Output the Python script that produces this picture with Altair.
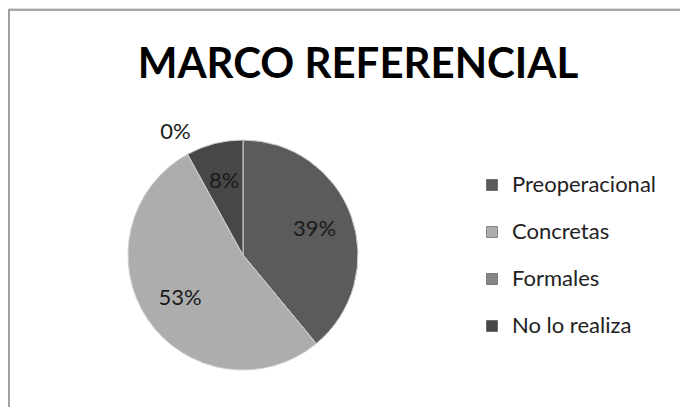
import altair as alt
import pandas as pd

categories = ["Preoperacional", "Concretas", "Formales", "No lo realiza"]
values = [39, 53, 0, 8]
order_idx = [0, 1, 2, 3]
colors = ["#5b5b5b", "#adadad", "#868686", "#474747"]
title_text = ["MARCO REFERENCIAL"]

df = pd.DataFrame({"cat": categories, "value": values, "idx": order_idx})
tdf = pd.DataFrame({"t": title_text})

CX, CY, R = 235, 247, 115

base = alt.Chart(df).encode(
    theta=alt.Theta("value:Q", stack=True),
    order=alt.Order("idx:Q"),
)

pie = base.mark_arc(outerRadius=R, stroke="#d0d0d0", strokeWidth=1).encode(
    x=alt.value(CX), y=alt.value(CY),
    color=alt.Color("cat:N", sort=categories,
                    scale=alt.Scale(domain=categories, range=colors),
                    legend=alt.Legend(title=None, orient="none", legendX=473, legendY=166,
                                      symbolType="square", symbolSize=121,
                                      symbolStrokeColor="#333", symbolStrokeWidth=0.5,
                                      labelFont="Lato", labelFontSize=22, labelColor="#222",
                                      rowPadding=25, labelOffset=9)),
)

inner = base.transform_calculate(
    lab="datum.value > 0 ? datum.value + '%' : ''"
).mark_text(radius=76, font="Lato", fontSize=22, color="#1a1a1a").encode(
    x=alt.value(CX), y=alt.value(CY), text="lab:N")

outer = base.transform_calculate(
    lab="datum.value == 0 ? datum.value + '%' : ''"
).mark_text(radius=140, font="Lato", fontSize=22, color="#1a1a1a").encode(
    x=alt.value(CX), y=alt.value(CY), text="lab:N")

border = alt.Chart(tdf).mark_rect(fill=None, stroke="#8a8a8a", strokeWidth=1.5).encode(
    x=alt.value(1), y=alt.value(2), x2=alt.value(760), y2=alt.value(460))

title = alt.Chart(tdf).mark_text(font="Lato", fontWeight="bold", fontSize=42,
                                 baseline="alphabetic", color="#000").encode(
    x=alt.value(350), y=alt.value(70), text="t:N")

chart = alt.layer(border, pie, inner, outer, title).properties(
    width=672, height=399, padding=0, autosize="none"
).configure_view(stroke=None).configure(background="white")

chart.save("out.html", embed_options={"renderer": "svg", "actions": False})
